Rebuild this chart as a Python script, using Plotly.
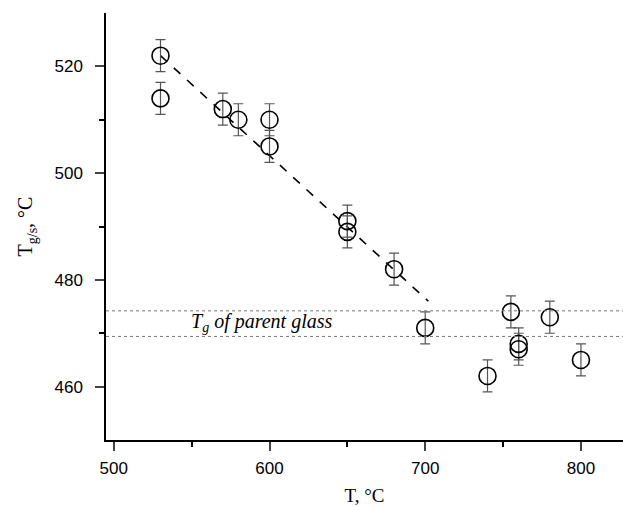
import plotly.graph_objects as go

temps = [530, 530, 570, 580, 600, 600, 650, 650, 680, 700, 740, 755, 760, 760, 780, 800]
tgs = [522, 514, 512, 510, 510, 505, 491, 489, 482, 471, 462, 474, 468, 467, 473, 465]
errs = [3, 3, 3, 3, 3, 3, 3, 3, 3, 3, 3, 3, 3, 3, 3, 3]
fit_x = [530, 702]
fit_y = [522, 476]
parent_tg = [474.2, 469.4]
x_ticks = [500, 600, 700, 800]
y_ticks = [460, 480, 500, 520]

fig = go.Figure()
fig.add_trace(go.Scatter(x=fit_x, y=fit_y, mode="lines",
                         line=dict(color="black", width=1.6, dash="dash"),
                         showlegend=False))
fig.add_trace(go.Scatter(
    x=temps, y=tgs, mode="markers",
    error_y=dict(type="data", array=errs, visible=True, color="#555555", thickness=1.2, width=5),
    marker=dict(symbol="circle-open", size=17, color="black", line=dict(width=1.6)),
    showlegend=False))
for v in parent_tg:
    fig.add_shape(type="line", xref="paper", x0=0, x1=1, yref="y", y0=v, y1=v,
                  line=dict(color="#777777", width=1, dash="dot"))
fig.add_annotation(x=548, y=472, xanchor="left", yanchor="middle", showarrow=False,
                   text="<i>T<sub>g</sub> of parent glass</i>",
                   font=dict(family="Liberation Serif", size=20, color="black"))

fig.update_xaxes(range=[495, 827], tickvals=x_ticks, ticks="outside", ticklen=9, tickwidth=1.5,
                 showline=True, linecolor="black", linewidth=1.5, showgrid=False, zeroline=False,
                 ticklabelstandoff=3,
                 tickfont=dict(family="Liberation Sans", size=17, color="black"),
                 minor=dict(tickvals=[550, 650, 750], ticks="outside", ticklen=5, tickwidth=1.5, tickcolor="black"),
                 title=dict(text="T, °C", font=dict(family="Liberation Serif", size=19, color="black"), standoff=12))
fig.update_yaxes(range=[450, 530], tickvals=y_ticks, ticks="outside", ticklen=9, tickwidth=1.5,
                 showline=True, linecolor="black", linewidth=1.5, showgrid=False, zeroline=False,
                 ticklabelstandoff=9,
                 tickfont=dict(family="Liberation Sans", size=17, color="black"),
                 minor=dict(tickvals=[470, 490, 510], ticks="outside", ticklen=5, tickwidth=1.5, tickcolor="black"),
                 title=dict(text="T<sub>g/s</sub>, °C", font=dict(family="Liberation Serif", size=20, color="black"), standoff=16))
fig.update_layout(width=623, height=506, margin=dict(l=106, r=0, t=13, b=66),
                  plot_bgcolor="white", paper_bgcolor="white")
fig.write_html("out.html")
